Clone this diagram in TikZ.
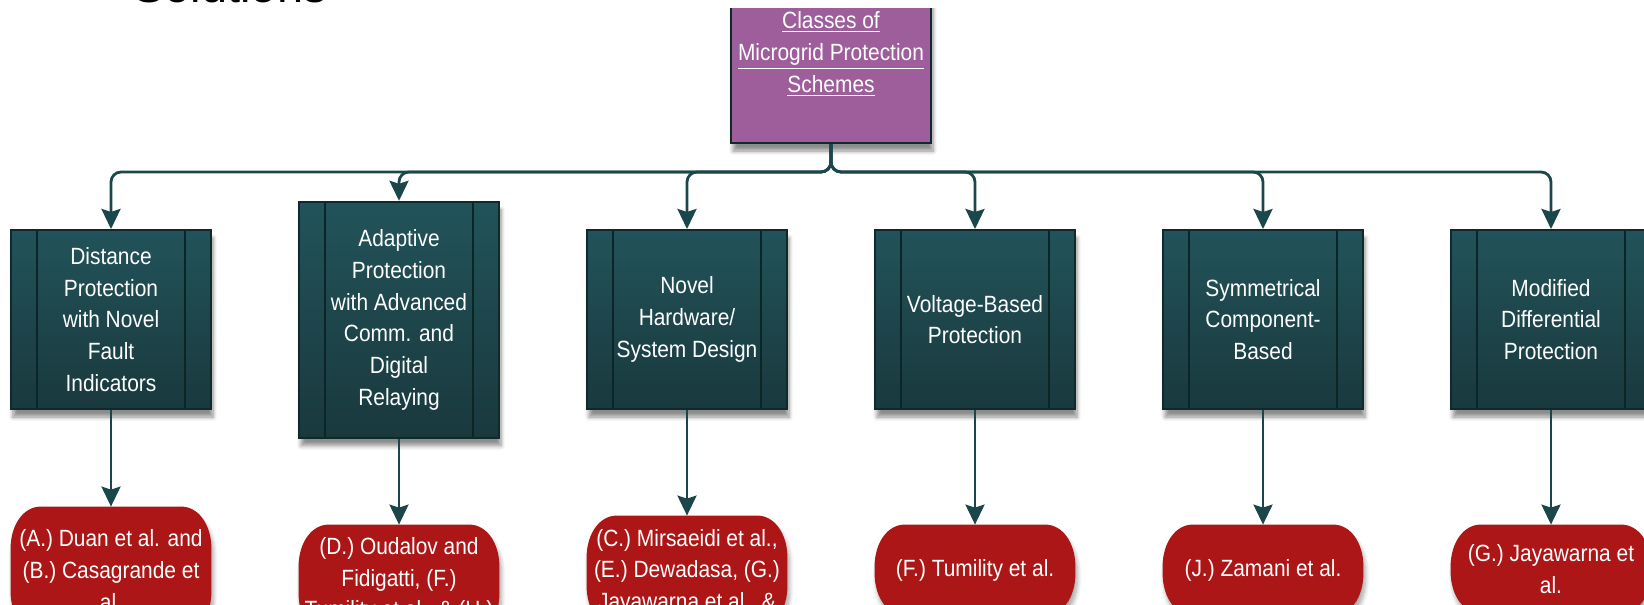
\documentclass[tikz,border=0pt]{standalone}
\usepackage{fontspec}
\setmainfont{Liberation Sans}
\newfontfamily\condfont{Liberation Sans}[FakeStretch=0.89]
\usetikzlibrary{arrows.meta,shadows.blur,calc,backgrounds}
\definecolor{purplefill}{HTML}{9E5E9B}
\definecolor{tealtop}{HTML}{22535A}
\definecolor{tealbot}{HTML}{19393D}
\definecolor{tealedge}{HTML}{102A2C}
\definecolor{inkline}{HTML}{0E2527}
\definecolor{redfill}{HTML}{AD1616}
\definecolor{arrowcol}{HTML}{1B474A}
\begin{document}
\begin{tikzpicture}[x=0.5pt,y=-0.5pt,
  txt/.style={font=\condfont\fontsize{11.75}{15.85}\selectfont, text=white, align=center, inner sep=0pt},
  rootbox/.style={txt, draw=tealedge, line width=1pt, fill=purplefill,
    minimum width=100pt, minimum height=89pt,
    blur shadow={shadow xshift=1pt, shadow yshift=-4pt, shadow blur steps=6, shadow opacity=45}},
  classbox/.style={txt, draw=tealedge, line width=1pt, top color=tealtop, bottom color=tealbot,
    minimum width=100pt,
    blur shadow={shadow xshift=1pt, shadow yshift=-4pt, shadow blur steps=6, shadow opacity=45},
    path picture={
      \draw[inkline, line width=0.9pt] ([xshift=13pt]path picture bounding box.north west) -- ([xshift=13pt]path picture bounding box.south west);
      \draw[inkline, line width=0.9pt] ([xshift=-13pt]path picture bounding box.north east) -- ([xshift=-13pt]path picture bounding box.south east);}},
  refbox/.style={txt, minimum width=100pt},
  pill/.style={fill=redfill,
    blur shadow={shadow xshift=1pt, shadow yshift=-3pt, shadow blur steps=6, shadow opacity=35}},
  link/.style={draw=arrowcol, line width=1.4pt, -{Stealth[length=10pt,width=9.5pt,inset=1.5pt]}},
  bus/.style={link, rounded corners=5pt}
]
\useasboundingbox (0,0) rectangle (1644,605);
\clip (0,0) rectangle (1644,605);

\node[anchor=base west, inner sep=0pt, font=\fontsize{23.5}{28}\selectfont] (title) at (133,3) {Solutions};

\begin{scope}
\clip (0,8) rectangle (1644,605);

\node[rootbox, minimum height=89pt] (root) at (831,54)
  {\underline{Classes of}\\\underline{Microgrid Protection}\\\underline{Schemes}};

\node[classbox, minimum height=89.5pt] (c1) at (111,319.5)
  {Distance\\Protection\\with Novel\\Fault\\Indicators};
\node[classbox, minimum height=118pt] (c2) at (399,319.8)
  {Adaptive\\Protection\\with Advanced\\Comm. and\\Digital\\Relaying};
\node[classbox, minimum height=89.5pt] (c3) at (687,319.5)
  {Novel\\Hardware/\\System Design};
\node[classbox, minimum height=89.5pt] (c4) at (975,319.5)
  {Voltage-Based\\Protection};
\node[classbox, minimum height=89.5pt] (c5) at (1263,319.5)
  {Symmetrical\\Component-\\Based};
\node[classbox, minimum height=89.5pt] (c6) at (1551,319.5)
  {Modified\\Differential\\Protection};

\node[refbox, minimum height=63pt] (r1) at (111,570)
  {(A.) Duan et al. and\\(B.) Casagrande et\\al.};
\node[refbox, minimum height=55pt] (r2) at (399,580)
  {(D.) Oudalov and\\Fidigatti, (F.)\\Tumility et al., \& (H.)};
\node[refbox, minimum height=55.7pt] (r3) at (687,571.7)
  {(C.) Mirsaeidi et al.,\\(E.) Dewadasa, (G.)\\Jayawarna et al., \&};
\node[refbox, minimum height=45pt] (r4) at (975,570)
  {(F.) Tumility et al.};
\node[refbox, minimum height=45pt] (r5) at (1263,570)
  {(J.) Zamani et al.};
\node[refbox, minimum height=44pt] (r6) at (1551,569)
  {(G.) Jayawarna et\\al.};

\begin{scope}[on background layer]
\foreach \n in {r1,r2,r3,r4,r5,r6}{
  \path[pill]
    ($(\n.north west)+(30,0)$) -- ($(\n.north east)+(-30,0)$)
    .. controls ($(\n.north east)+(-13,0)$) and ($(\n.north east)+(0,18)$) .. ($(\n.north east)+(0,42)$)
    -- ($(\n.south east)+(0,-42)$)
    .. controls ($(\n.south east)+(0,-18)$) and ($(\n.south east)+(-13,0)$) .. ($(\n.south east)+(-30,0)$)
    -- ($(\n.south west)+(30,0)$)
    .. controls ($(\n.south west)+(13,0)$) and ($(\n.south west)+(0,-18)$) .. ($(\n.south west)+(0,-42)$)
    -- ($(\n.north west)+(0,42)$)
    .. controls ($(\n.north west)+(0,18)$) and ($(\n.north west)+(13,0)$) .. ($(\n.north west)+(30,0)$)
    -- cycle;
}
\end{scope}

\coordinate (hub) at (831,172);
\foreach \i in {1,...,6} {
  \draw[bus] (root.south) -- (hub) -| (c\i.north);
  \draw[link] (c\i.south) -- (r\i.north);
}
\end{scope}
\end{tikzpicture}
\end{document}
